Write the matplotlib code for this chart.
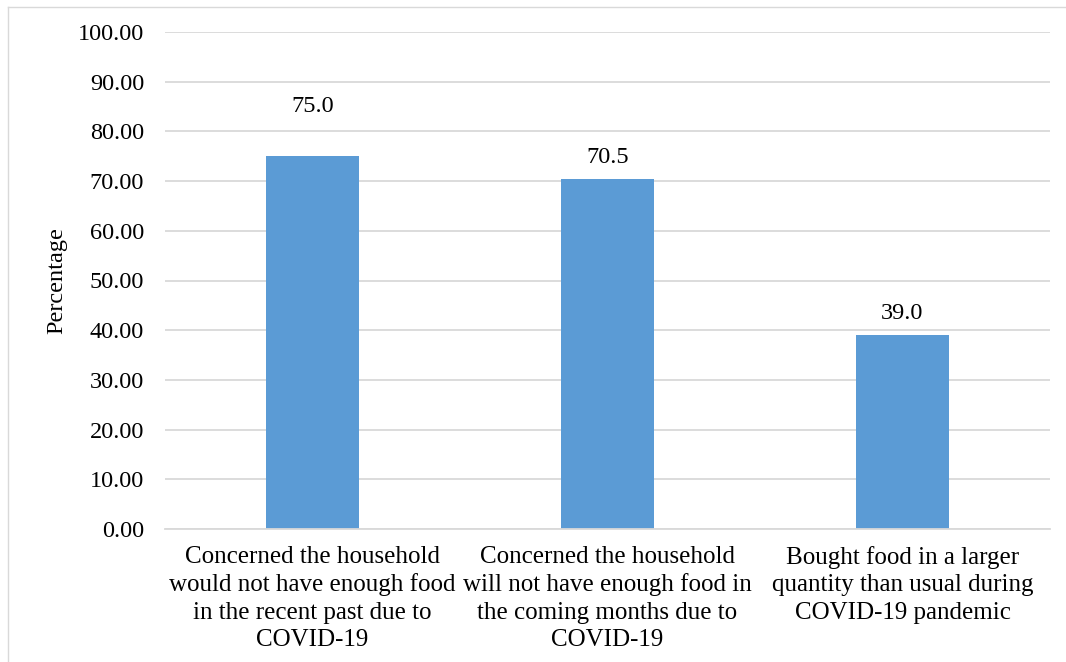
import matplotlib.pyplot as plt
import numpy as np
from matplotlib.lines import Line2D

categories = [
    "Concerned the household\nwould not have enough food\nin the recent past due to\nCOVID-19",
    "Concerned the household\nwill not have enough food in\nthe coming months due to\nCOVID-19",
    "Bought food in a larger\nquantity than usual during\nCOVID-19 pandemic",
]
values = [75.0, 70.5, 39.0]
label_pad = [28, 8, 8]  # points above bar top for value labels
yticks = np.arange(0, 101, 10)

plt.rcParams["font.family"] = ["Liberation Serif", "DejaVu Serif"]
FS = 17.5

W, H = 1066, 662
fig = plt.figure(figsize=(W / 100, H / 100), dpi=100)
ax = fig.add_axes([165 / W, 1 - 529 / H, (1050 - 165) / W, (529 - 32) / H])

x = np.arange(len(categories))
ax.bar(x, values, width=0.312, color="#5B9BD5", zorder=3)

for xi, v, p in zip(x, values, label_pad):
    ax.annotate("%.1f" % v, (xi, v), xytext=(0, p), textcoords="offset points",
                ha="center", va="bottom", fontsize=FS, color="#000000")

ax.set_xlim(-0.5, len(categories) - 0.5)
ax.set_ylim(0, 100)
ax.set_yticks(yticks)
ax.set_yticklabels(["%.2f" % t for t in yticks], fontsize=FS)
ax.set_xticks(x)
ax.set_xticklabels(categories, fontsize=18, linespacing=1.32)
ax.tick_params(axis="both", length=0)
ax.tick_params(axis="y", pad=15)
ax.tick_params(axis="x", pad=12)

ax.grid(axis="y", color="#D9D9D9", linewidth=1.3, zorder=0)
for s in ["top", "right", "left"]:
    ax.spines[s].set_visible(False)
ax.spines["bottom"].set_color("#D9D9D9")
ax.spines["bottom"].set_linewidth(1.3)
ax.spines["bottom"].set_zorder(4)

ax.set_ylabel("Percentage", fontsize=FS)
ax.yaxis.set_label_coords(-98 / (1050 - 165), 0.5)

# light frame around the chart
fig.add_artist(Line2D([8 / W, 8 / W], [0, 1 - 7 / H], transform=fig.transFigure,
                      color="#D9D9D9", linewidth=1))
fig.add_artist(Line2D([8 / W, 1], [1 - 7 / H, 1 - 7 / H], transform=fig.transFigure,
                      color="#D9D9D9", linewidth=1))

fig.savefig("out.png", dpi=100, facecolor="white")
